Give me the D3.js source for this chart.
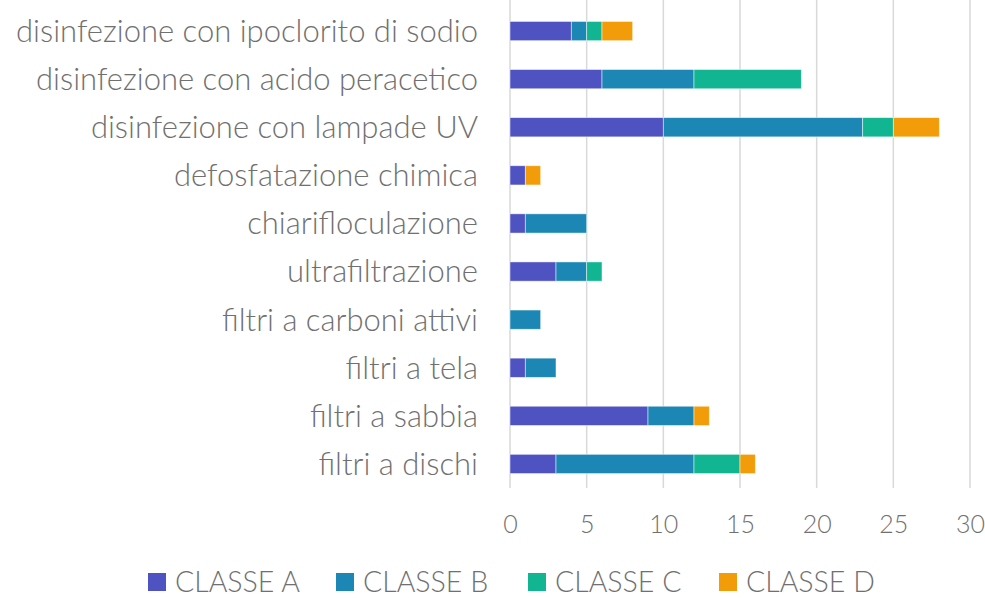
<!DOCTYPE html>
<html>
<head>
<meta charset="utf-8">
<script src="https://cdn.jsdelivr.net/npm/d3@7"></script>
<style>
  body { margin: 0; background: #fff; }
  text { font-family: "Source Sans Pro", Lato, "Noto Sans", sans-serif; fill: #707070; }
</style>
</head>
<body>
<script>
const width = 985;
const height = 598;
const margin = { top: 7, right: 15, bottom: 110, left: 510 };

const categorie = [
  "disinfezione con ipoclorito di sodio",
  "disinfezione con acido peracetico",
  "disinfezione con lampade UV",
  "defosfatazione chimica",
  "chiarifloculazione",
  "ultrafiltrazione",
  "filtri a carboni attivi",
  "filtri a tela",
  "filtri a sabbia",
  "filtri a dischi",
];
const serie = ["CLASSE A", "CLASSE B", "CLASSE C", "CLASSE D"];
const classeA = [4, 6, 10, 1, 1, 3, 0, 1, 9, 3];
const classeB = [1, 6, 13, 0, 4, 2, 2, 2, 3, 9];
const classeC = [1, 7, 2, 0, 0, 1, 0, 0, 0, 3];
const classeD = [2, 0, 3, 1, 0, 0, 0, 0, 1, 1];
const ticks = [0, 5, 10, 15, 20, 25, 30];
const colori = ["#4f52c1", "#1c87b5", "#12b591", "#f39c0a"];

const valori = [classeA, classeB, classeC, classeD];
const tabella = categorie.map((c, i) => {
  const riga = { categoria: c };
  serie.forEach((s, j) => (riga[s] = valori[j][i]));
  return riga;
});

const svg = d3
  .select("body")
  .append("svg")
  .attr("width", width)
  .attr("height", height);

const x = d3.scaleLinear().domain([0, 30]).range([margin.left, 970]);
const y = d3
  .scaleBand()
  .domain(categorie)
  .range([margin.top, 488])
  .paddingInner(0.6)
  .paddingOuter(0.3);

// griglia
svg
  .append("g")
  .selectAll("line")
  .data(ticks)
  .join("line")
  .attr("x1", (d) => x(d))
  .attr("x2", (d) => x(d))
  .attr("y1", 0)
  .attr("y2", 488)
  .attr("stroke", "#d9d9d9")
  .attr("stroke-width", 1.5);

const stack = d3.stack().keys(serie)(tabella);

svg
  .append("g")
  .selectAll("g")
  .data(stack)
  .join("g")
  .attr("fill", (d, i) => colori[i])
  .selectAll("rect")
  .data((d) => d.filter((p) => p[1] > p[0]))
  .join("rect")
  .attr("x", (d) => x(d[0]))
  .attr("width", (d) => x(d[1]) - x(d[0]))
  .attr("y", (d) => y(d.data.categoria))
  .attr("height", y.bandwidth())
  .attr("stroke", "rgba(255,255,255,0.6)")
  .attr("stroke-width", 0.8);

// etichette categorie
svg
  .append("g")
  .selectAll("text")
  .data(categorie)
  .join("text")
  .attr("x", 478)
  .attr("y", (d) => y(d) + y.bandwidth() / 2)
  .attr("dy", "0.35em")
  .attr("text-anchor", "end")
  .attr("font-size", 31)
  .attr("font-weight", 300)
  .text((d) => d);

// asse x
const asse = svg
  .append("g")
  .attr("transform", "translate(0, 524)")
  .call(d3.axisBottom(x).tickValues(ticks).tickSize(0).tickPadding(0));
asse.select(".domain").remove();
asse
  .selectAll("text")
  .attr("font-size", 25)
  .attr("font-weight", 300)
  .attr("dy", "0.35em")
  .attr("fill", "#707070");
asse.attr("font-family", null);

// legenda
const legendaX = [148, 336, 528, 719];
const legenda = svg
  .append("g")
  .selectAll("g")
  .data(serie)
  .join("g")
  .attr("transform", (d, i) => `translate(${legendaX[i]}, 582)`);
legenda
  .append("rect")
  .attr("x", 0)
  .attr("y", -9)
  .attr("width", 18)
  .attr("height", 18)
  .attr("fill", (d, i) => colori[i]);
legenda
  .append("text")
  .attr("x", 27)
  .attr("dy", "0.35em")
  .attr("font-size", 28.5)
  .attr("font-weight", 300)
  .text((d) => d);
</script>
</body>
</html>
